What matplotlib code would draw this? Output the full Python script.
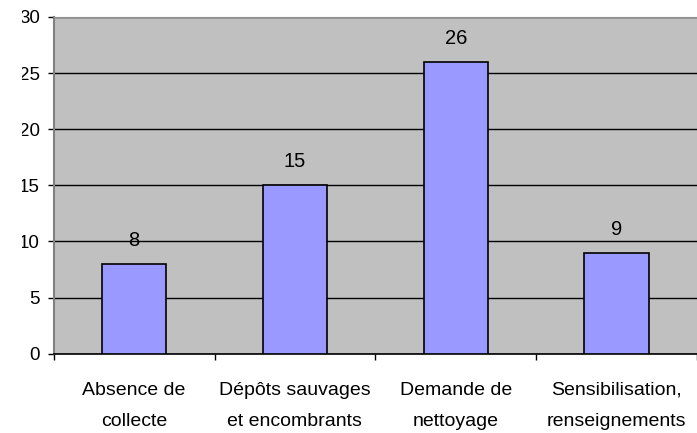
import matplotlib.pyplot as plt
import numpy as np
from matplotlib.transforms import Bbox

# donnees
categories = ['Absence de\ncollecte', 'Dépôts sauvages\net encombrants',
              'Demande de\nnettoyage', 'Sensibilisation,\nrenseignements']
valeurs = [8, 15, 26, 9]
yticks = [0, 5, 10, 15, 20, 25, 30]

plt.rcParams['font.family'] = ['Liberation Sans', 'DejaVu Sans']

fig = plt.figure(figsize=(6.97, 4.33), dpi=100, facecolor='w')
ax = fig.add_axes([0.077, 0.183, 0.923, 0.778])
ax.set_facecolor('#C0C0C0')
ax.set_axisbelow(True)

x = np.arange(len(categories))
ax.bar(x, valeurs, width=0.4, color='#9999FF', edgecolor='black', lw=1.2, zorder=3)

for xi, v in zip(x, valeurs):
    ax.annotate(str(v), (xi, v), xytext=(0, 10), textcoords='offset points',
                ha='center', va='bottom', fontsize=14.5)

ax.set_xlim(-0.5, len(categories) - 0.5)
ax.set_ylim(0, 30)
ax.set_yticks(yticks)
ax.set_yticklabels([str(t) for t in yticks], fontsize=13.5)
ax.yaxis.grid(True, color='black', lw=1)

# ticks de categories aux frontieres
ax.set_xticks(np.arange(len(categories) + 1) - 0.5)
ax.set_xticklabels([])
ax.set_xticks(x, minor=True)
ax.set_xticklabels(categories, minor=True, fontsize=14, linespacing=2.1)
ax.tick_params(axis='x', which='minor', length=0, pad=20)
ax.tick_params(axis='x', which='major', length=4, width=1, direction='out')
ax.tick_params(axis='y', length=4, width=1, direction='out', pad=6)

# les etiquettes de gauche sont coupees dans l'original
clip = Bbox([[22, 0], [697, 433]])
for lbl in ax.get_yticklabels():
    lbl.set_clip_on(True)
    lbl.set_clip_box(clip)

ax.spines['top'].set_color('#909090')
ax.spines['right'].set_visible(False)
ax.spines['left'].set_color('#808080')
ax.spines['left'].set_linewidth(1.5)
ax.spines['bottom'].set_color('black')
ax.spines['bottom'].set_linewidth(1.2)

fig.savefig('out.png', dpi=100)
